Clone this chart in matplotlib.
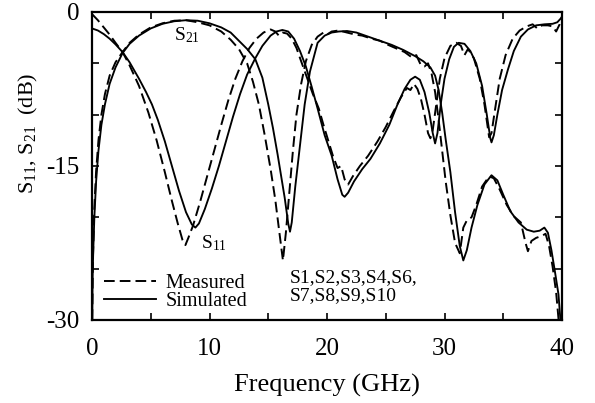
import matplotlib
matplotlib.use('Agg')
import matplotlib.pyplot as plt
from matplotlib.lines import Line2D

plt.rcParams['font.family'] = ['Liberation Serif', 'DejaVu Serif']
plt.rcParams['mathtext.fontset'] = 'custom'
plt.rcParams['mathtext.rm'] = 'Liberation Serif'
plt.rcParams['mathtext.it'] = 'Liberation Serif:italic'
plt.rcParams['mathtext.bf'] = 'Liberation Serif:bold'

# Simulated S21 (GHz, dB)
sim_s21_f = [0.02, 0.05, 0.1, 0.2, 0.35, 0.55, 0.8, 1.1, 1.5, 2.0, 2.6, 3.2, 4.0, 5.0, 6.0,
             7.0, 8.0, 9.0, 10.0, 11.0, 11.8, 12.5, 13.2, 13.9, 14.5, 15.0, 15.4, 15.8, 16.4,
             16.7, 16.85, 17.0, 17.3, 17.7, 18.1, 18.55, 19.2, 19.8, 20.4, 21.0, 21.7, 22.5,
             23.5, 24.5, 25.5, 26.5, 27.5, 28.2, 28.8, 29.2, 29.5, 29.8, 30.1, 30.5, 30.9,
             31.3, 31.6, 31.9, 32.3, 32.8, 33.4, 34.0, 34.5, 35.0, 35.6, 36.3, 37.0, 37.6,
             38.1, 38.5, 38.8, 39.1, 39.4, 39.7, 39.9]
sim_s21_db = [-30, -26, -23.5, -20, -16.5, -13.5, -11, -9, -7, -5.4, -4.0, -3.1, -2.3, -1.6, -1.15,
              -0.9, -0.8, -0.85, -1.1, -1.5, -2.0, -2.8, -3.6, -4.6, -6.4, -9.0, -11.3, -13.9, -18.1,
              -20.6, -21.4, -20.5, -17.0, -13.0, -9.0, -5.8, -3.0, -2.3, -2.0, -1.9, -1.85, -2.0,
              -2.4, -2.8, -3.2, -3.7, -4.3, -4.8, -5.4, -6.2, -7.6, -9.8, -12.4, -15.6, -19.5,
              -22.8, -24.2, -23.2, -21.0, -18.8, -16.8, -15.9, -16.4, -17.8, -19.4, -20.5, -21.2, -21.4,
              -21.3, -21.0, -21.5, -23.2, -25.3, -27.5, -30.5]

# Simulated S11
sim_s11_f = [0.0, 0.5, 1.0, 1.5, 2.0, 2.6, 3.2, 4.0, 4.6, 5.1, 5.6, 6.2, 6.8, 7.4, 8.0, 8.5, 8.8,
             9.1, 9.6, 10.2, 10.8, 11.4, 12.0, 12.6, 13.2, 13.9, 14.5, 15.2, 15.7, 16.2, 16.7,
             17.2, 17.7, 18.2, 18.7, 19.2, 19.8, 20.4, 20.9, 21.3, 21.5, 21.8, 22.3, 23.0, 23.7,
             24.5, 25.3, 26.0, 26.6, 27.1, 27.5, 27.9, 28.3, 28.7, 29.0, 29.2, 29.4, 29.7, 30.0,
             30.4, 30.8, 31.2, 31.7, 32.2, 32.7, 33.2, 33.6, 33.9, 34.0, 34.2, 34.5, 34.9, 35.4,
             35.9, 36.5, 37.1, 37.8, 38.5, 39.2, 39.6, 40.0]
sim_s11_db = [-1.6, -1.8, -2.15, -2.6, -3.15, -3.9, -4.9, -6.5, -7.8, -9.0, -10.5, -12.6, -15.0, -17.4,
              -19.5, -20.7, -21.0, -20.6, -19.2, -17.2, -15.0, -12.6, -10.2, -8.0, -6.1, -4.5, -3.3,
              -2.3, -1.9, -1.75, -1.9, -2.6, -3.8, -5.3, -7.3, -9.4, -12.0, -14.0, -16.3, -17.8,
              -18.0, -17.6, -16.5, -15.3, -14.3, -12.8, -11.0, -9.0, -7.5, -6.6, -6.3, -6.6, -7.8,
              -9.8, -11.8, -12.8, -11.8, -8.8, -6.5, -4.6, -3.4, -3.0, -3.1, -3.8, -5.0, -7.2,
              -10.0, -12.3, -12.7, -12.0, -10.0, -7.6, -5.6, -3.8, -2.4, -1.7, -1.3, -1.2, -1.15,
              -1.0, -0.5]

# Measured S11
meas_s11_f = [0.0, 0.5, 1.0, 1.5, 2.0, 2.6, 3.2, 4.0, 4.8, 5.5, 6.2, 6.8, 7.3, 7.7, 7.95, 8.2, 8.6,
              9.2, 9.8, 10.4, 11.0, 11.6, 12.2, 12.8, 13.4, 14.0, 14.6, 15.2, 15.6, 15.9, 16.2,
              16.6, 17.0, 17.4, 17.8, 18.3, 18.8, 19.3, 19.7, 20.1, 20.5, 20.9, 21.2, 21.5, 21.8,
              22.2, 22.8, 23.5, 24.3, 25.0, 25.7, 26.3, 26.8, 27.1, 27.4, 27.7, 28.0, 28.3, 28.6,
              28.8, 29.0, 29.3, 29.6, 30.0, 30.5, 31.0, 31.4, 31.7, 32.0, 32.5, 33.0, 33.4, 33.8,
              34.0, 34.3, 34.7, 35.2, 35.8, 36.4, 37.0, 37.5, 37.9, 38.3, 38.8, 39.2, 39.5, 39.8, 40.0]
meas_s11_db = [-0.2, -0.8, -1.5, -2.2, -3.0, -3.9, -5.2, -7.2, -9.8, -12.5, -15.6, -18.4, -20.6, -22.2,
               -22.7, -22.0, -20.8, -18.5, -16.0, -13.5, -11.0, -8.6, -6.5, -4.8, -3.5, -2.6, -2.0,
               -1.7, -1.9, -2.3, -2.0, -2.1, -2.6, -3.5, -4.8, -6.4, -8.0, -9.4, -11.0, -12.5, -14.0,
               -15.2, -15.0, -16.3, -16.8, -16.0, -15.0, -14.0, -12.6, -11.2, -9.6, -8.3, -7.4, -7.6,
               -7.0, -7.5, -8.5, -10.0, -11.8, -12.3, -11.5, -9.0, -6.5, -4.5, -3.3, -3.0, -3.3, -4.2,
               -3.6, -4.5, -6.5, -9.0, -12.2, -11.8, -9.5, -6.5, -4.2, -2.6, -1.8, -1.4, -1.2, -1.6,
               -1.3, -1.3, -1.4, -1.9, -1.2, -0.4]

# Measured S21
meas_s21_f = [0.02, 0.08, 0.2, 0.35, 0.55, 0.8, 1.1, 1.5, 2.0, 2.6, 3.2, 4.0, 5.0, 6.0, 7.0, 8.0, 9.0,
              10.0, 11.0, 11.8, 12.5, 13.2, 13.7, 14.2, 14.7, 15.2, 15.6, 15.95, 16.25, 16.5, 16.8,
              17.1, 17.4, 17.8, 18.2, 18.7, 19.2, 19.7, 20.0, 20.4, 21.0, 21.7, 22.4, 23.0, 23.8,
              24.5, 25.2, 26.0, 26.6, 27.2, 27.6, 28.0, 28.3, 28.6, 28.9, 29.2, 29.5, 29.8, 30.1,
              30.5, 30.9, 31.3, 31.6, 31.9, 32.3, 32.7, 33.2, 33.8, 34.2, 34.7, 35.3, 35.9, 36.5,
              36.9, 37.1, 37.4, 37.8, 38.3, 38.6, 38.9, 39.2, 39.5, 39.75]
meas_s21_db = [-30, -24, -19, -15.5, -12.5, -10, -8.0, -6.2, -4.9, -3.9, -3.0, -2.2, -1.5, -1.1, -0.85,
               -0.8, -1.0, -1.3, -1.9, -2.7, -3.6, -5.0, -6.8, -9.0, -12.0, -15.3, -18.3, -21.5, -24.2,
               -21.5, -17.5, -13.5, -10.0, -7.0, -4.8, -3.2, -2.4, -2.0, -2.2, -1.9, -1.8, -2.0, -2.2,
               -2.3, -2.6, -2.8, -3.2, -3.6, -3.9, -4.4, -4.2, -5.2, -5.3, -5.0, -6.0, -7.8, -10.5,
               -13.5, -16.5, -19.8, -22.5, -23.5, -21.0, -20.3, -20.0, -18.8, -17.0, -16.0, -16.2,
               -17.3, -18.8, -19.9, -20.5, -22.5, -23.3, -22.3, -22.0, -21.8, -21.6, -22.8, -24.8,
               -27.3, -30.5]

x_major = [0, 10, 20, 30, 40]
x_minor = [5, 15, 25, 35]
y_major = [0, -15, -30]
y_major_labels = ['0', '-15', '-30']
y_minor = [-5, -10, -20, -25]
sample_lines = ['S1,S2,S3,S4,S6,', 'S7,S8,S9,S10']

fig = plt.figure(figsize=(5.95, 4.03), dpi=100)
ax = fig.add_axes([92 / 595, 1 - 320 / 403, 470 / 595, 308 / 403])

dash = (0, (5.5, 2.6))
ax.plot(meas_s11_f, meas_s11_db, color='black', lw=1.4, linestyle=dash)
ax.plot(meas_s21_f, meas_s21_db, color='black', lw=1.4, linestyle=dash)
ax.plot(sim_s11_f, sim_s11_db, color='black', lw=1.35)
ax.plot(sim_s21_f, sim_s21_db, color='black', lw=1.35)

ax.set_xlim(0, 40)
ax.set_ylim(-30, 0)
ax.set_xticks(x_major)
ax.set_xticks(x_minor, minor=True)
ax.set_yticks(y_major)
ax.set_yticklabels(y_major_labels)
ax.set_yticks(y_minor, minor=True)
ax.tick_params(which='both', direction='in', top=True, right=True, length=5, width=1.2,
               labelsize=18)
ax.tick_params(axis='x', pad=13)
ax.tick_params(axis='y', pad=9)
for s in ax.spines.values():
    s.set_linewidth(1.6)

ax.set_xlabel('Frequency (GHz)', fontsize=19, labelpad=10)
fig.text(28 / 595, 1 - 133 / 403, 'S$_{11}$, S$_{21}$  (dB)', rotation=90,
         ha='center', va='center', fontsize=16)

ax.text(7.0, -2.8, 'S$_{21}$', fontsize=14, ha='left', va='baseline')
ax.text(9.3, -23.0, 'S$_{11}$', fontsize=14, ha='left', va='baseline')

ax.text(16.8, -26.3, sample_lines[0], fontsize=14, ha='left', va='baseline')
ax.text(16.8, -28.1, sample_lines[1], fontsize=14, ha='left', va='baseline')

handles = [Line2D([], [], color='black', lw=1.4, linestyle=dash),
           Line2D([], [], color='black', lw=1.35)]
ax.legend(handles, ['Measured', 'Simulated'], loc='lower left',
          bbox_to_anchor=(0.025, 0.03), frameon=False, fontsize=14.5,
          handlelength=2.6, handletextpad=0.45, labelspacing=-0.05,
          borderpad=0, borderaxespad=0)

fig.savefig('out.png', dpi=100)
